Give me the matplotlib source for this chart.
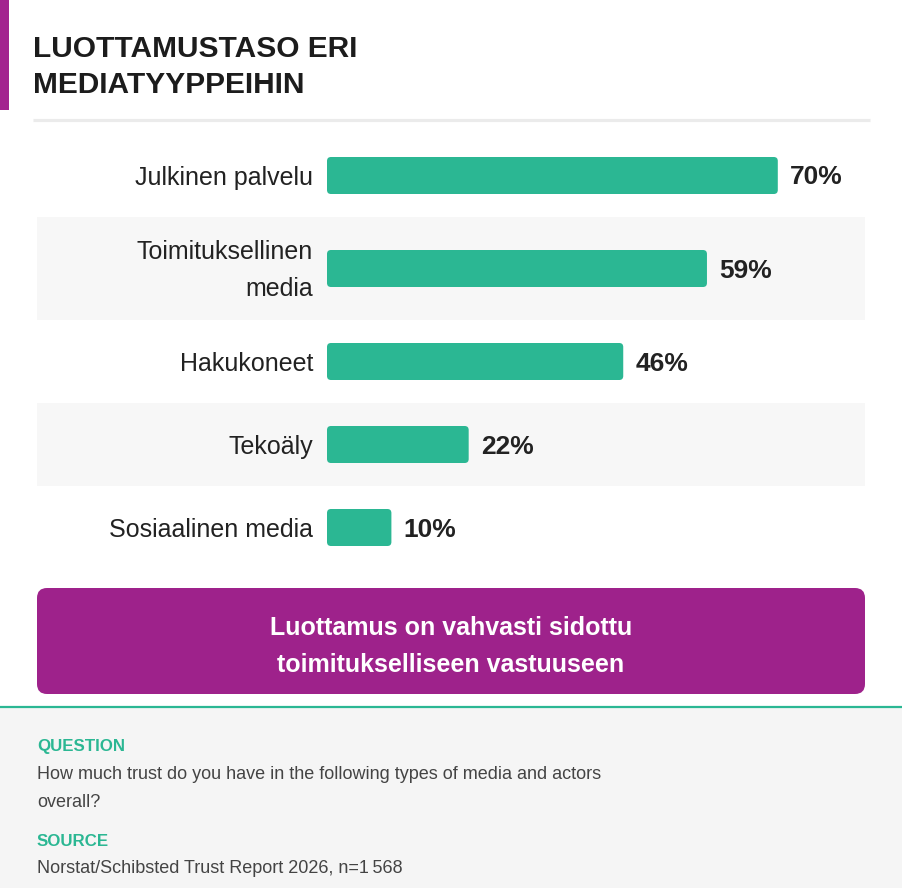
import matplotlib
matplotlib.use("Agg")
import matplotlib.pyplot as plt
from matplotlib.patches import FancyBboxPatch, Rectangle

# ---- data ----
categories = ["Julkinen palvelu", "Toimituksellinen\nmedia", "Hakukoneet", "Tekoäly", "Sosiaalinen media"]
values = [70, 59, 46, 22, 10]
value_labels = ["70%", "59%", "46%", "22%", "10%"]
title_lines = ["LUOTTAMUSTASO ERI", "MEDIATYYPPEIHIN"]
callout_lines = ["Luottamus on vahvasti sidottu", "toimitukselliseen vastuuseen"]
question_head = "QUESTION"
question_lines = ["How much trust do you have in the following types of media and actors", "overall?"]
source_head = "SOURCE"
source_text = "Norstat/Schibsted Trust Report 2026, n=1\u2009568"

# ---- style ----
W, H = 903, 888
GREEN = "#2bb793"
PURPLE = "#9e228b"
DARK = "#222222"
FONT = ["Liberation Sans", "DejaVu Sans"]
plt.rcParams["font.family"] = FONT

fig = plt.figure(figsize=(W / 100, H / 100), dpi=100)
fig.patch.set_facecolor("white")

# full-figure overlay in pixel coordinates
bg = fig.add_axes([0, 0, 1, 1], zorder=0)
bg.set_xlim(0, W)
bg.set_ylim(H, 0)
bg.axis("off")

# accent bar
bg.add_patch(Rectangle((0, 0), 9, 110, color="#a3238f", lw=0))
# title
for i, t in enumerate(title_lines):
    bg.text(33, 57 + i * 36, t, fontsize=21.5, fontweight="bold", color="#1c1c1c",
            ha="left", va="baseline")
# separator
bg.plot([33, 870], [120.5, 120.5], color="#ebebeb", lw=2.3, solid_capstyle="butt")

# callout box
bg.add_patch(FancyBboxPatch((37, 588), 828, 106,
                            boxstyle="round,pad=0,rounding_size=10",
                            fc=PURPLE, ec="none"))
for i, t in enumerate(callout_lines):
    bg.text(451, 635 + i * 37, t, fontsize=18, fontweight="bold", color="white",
            ha="center", va="baseline")

# footer
bg.add_patch(Rectangle((0, 708), W, H - 708, color="#f5f5f5", lw=0))
bg.plot([0, W], [707, 707], color=GREEN, lw=1.6)
bg.text(37, 751, question_head, fontsize=12.2, fontweight="bold", color=GREEN, ha="left", va="baseline")
for i, t in enumerate(question_lines):
    bg.text(37, 779 + i * 28, t, fontsize=13, color="#444444", ha="left", va="baseline")
bg.text(37, 846, source_head, fontsize=12.2, fontweight="bold", color=GREEN, ha="left", va="baseline")
bg.text(37, 873, source_text, fontsize=13, color="#444444", ha="left", va="baseline")

# ---- bar chart axes ----
px_per_unit = 6.44
x0_px, left_px, right_px = 327, 37, 865
top_px, bottom_px = 134, 569
row_heights = [83, 103, 83, 83, 83]

ax = fig.add_axes([left_px / W, 1 - bottom_px / H, (right_px - left_px) / W, (bottom_px - top_px) / H],
                  zorder=1)
ax.patch.set_alpha(0)
ax.set_xlim(-(x0_px - left_px) / px_per_unit, (right_px - x0_px) / px_per_unit)
ax.set_ylim(bottom_px, top_px)
ax.axis("off")

edges = [top_px]
for h in row_heights:
    edges.append(edges[-1] + h)
centers = [(edges[i] + edges[i + 1]) / 2 for i in range(len(row_heights))]

for i in range(len(categories)):
    if i % 2 == 1:
        ax.axhspan(edges[i], edges[i + 1], color="#f7f7f7", lw=0, zorder=0)

bars = ax.barh(centers, values, height=37, color=GREEN, zorder=2)
# replace with rounded versions
for b in bars:
    x, y = b.get_x(), b.get_y()
    w, h = b.get_width(), b.get_height()
    b.set_visible(False)
    ax.add_patch(FancyBboxPatch((x, y), w, h,
                                boxstyle=f"round,pad=0,rounding_size={4 / px_per_unit}",
                                mutation_aspect=px_per_unit, fc=GREEN, ec="none", zorder=2))

line_gap = 37
for c, cat, v, lab in zip(centers, categories, values, value_labels):
    lines = cat.split("\n")
    n = len(lines)
    for j, ln in enumerate(lines):
        yb = c + 9 + (j - (n - 1) / 2) * line_gap
        ax.text(-14 / px_per_unit, yb, ln, ha="right", va="baseline", fontsize=18, color=DARK)
    ax.text(v + 12 / px_per_unit, c + 9, lab, ha="left", va="baseline", fontsize=19,
            fontweight="bold", color=DARK)

fig.savefig("out.png", dpi=100, facecolor="white")
